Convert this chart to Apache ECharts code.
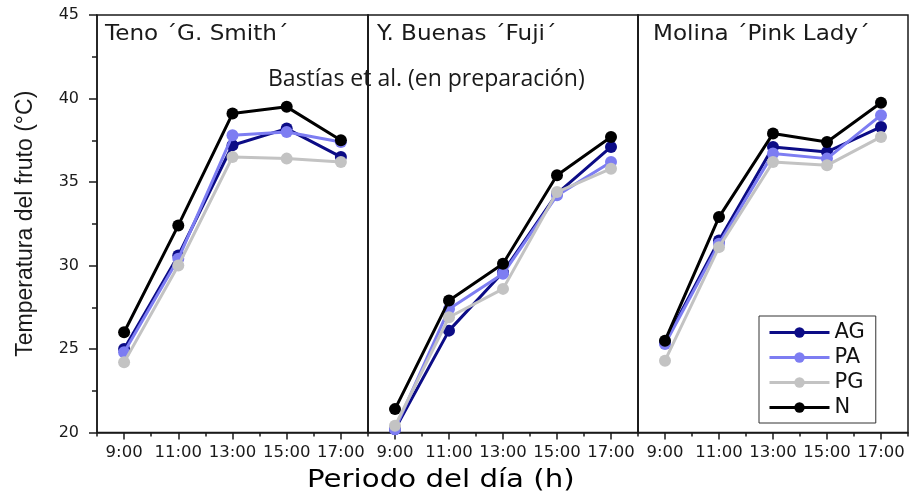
<!DOCTYPE html>
<html>
<head>
<meta charset="utf-8">
<script src="https://cdn.jsdelivr.net/npm/echarts@6/dist/echarts.min.js"></script>
<style>html,body{margin:0;padding:0;background:#fff}#c{width:910px;height:495px}</style>
</head>
<body>
<div id="c"></div>
<script>
const categories = ['9:00', '11:00', '13:00', '15:00', '17:00'];
const yTicks = [20, 25, 30, 35, 40, 45];
const seriesNames = ['AG', 'PA', 'PG', 'N'];
const panelTitles = ['Teno \u00b4G. Smith\u00b4', 'Y. Buenas \u00b4Fuji\u00b4', 'Molina \u00b4Pink Lady\u00b4'];

const teno_AG = [25.0, 30.6, 37.2, 38.2, 36.5];
const teno_PA = [24.8, 30.4, 37.8, 38.0, 37.4];
const teno_PG = [24.2, 30.0, 36.5, 36.4, 36.2];
const teno_N  = [26.0, 32.4, 39.1, 39.5, 37.5];

const fuji_AG = [20.2, 26.1, 29.6, 34.3, 37.1];
const fuji_PA = [20.2, 27.4, 29.5, 34.2, 36.2];
const fuji_PG = [20.4, 26.9, 28.6, 34.4, 35.8];
const fuji_N  = [21.4, 27.9, 30.1, 35.4, 37.7];

const molina_AG = [25.4, 31.5, 37.1, 36.8, 38.3];
const molina_PA = [25.3, 31.3, 36.7, 36.4, 39.0];
const molina_PG = [24.3, 31.1, 36.2, 36.0, 37.7];
const molina_N  = [25.5, 32.9, 37.9, 37.4, 39.75];

const panels = [
  [teno_AG, teno_PA, teno_PG, teno_N],
  [fuji_AG, fuji_PA, fuji_PG, fuji_N],
  [molina_AG, molina_PA, molina_PG, molina_N]
];
const colors = {AG: '#0c0c86', PA: '#7d7df2', PG: '#c3c3c3', N: '#000000'};

const F = 'DejaVu Sans';
const lefts = [97, 368, 638];
const widths = [271, 270, 270];

const grids = lefts.map((l, i) => ({
  left: l, width: widths[i], top: 15, bottom: 62.5,
  show: true, borderColor: '#1a1a1a', borderWidth: 1.5, backgroundColor: 'transparent'
}));

const xAxes = [];
for (let i = 0; i < 3; i++) {
  xAxes.push({
    type: 'category', gridIndex: i, data: categories, boundaryGap: true,
    axisLine: {show: true, lineStyle: {color: '#1a1a1a', width: 1.5}},
    axisTick: {show: true, alignWithLabel: true, interval: 0, length: 7, lineStyle: {color: '#1a1a1a', width: 1.5}},
    axisLabel: {show: true, interval: 0, hideOverlap: false, margin: 12, fontFamily: F, fontSize: 16.5, color: '#1a1a1a'},
    splitLine: {show: false}
  });
}
for (let i = 0; i < 3; i++) {
  xAxes.push({
    type: 'category', gridIndex: i, data: categories, boundaryGap: true, position: 'bottom',
    axisLine: {show: false},
    axisTick: {show: true, alignWithLabel: false, interval: 0, length: 4, lineStyle: {color: '#1a1a1a', width: 1.5}},
    axisLabel: {show: false}, splitLine: {show: false}
  });
}

const yAxes = [];
for (let i = 0; i < 3; i++) {
  yAxes.push({
    type: 'value', gridIndex: i, min: yTicks[0], max: yTicks[yTicks.length - 1], interval: 5,
    axisLine: {show: true, lineStyle: {color: '#1a1a1a', width: 1.5}},
    axisTick: {show: i === 0, length: 8, lineStyle: {color: '#1a1a1a', width: 1.5}},
    minorTick: {show: i === 0, splitNumber: 2, length: 5, lineStyle: {color: '#1a1a1a', width: 1.5}},
    axisLabel: {show: i === 0, margin: 18, fontFamily: F, fontSize: 16, color: '#1a1a1a'},
    splitLine: {show: false},
    name: i === 0 ? 'Temperatura del fruto (\u00b0C)' : '',
    nameLocation: 'middle', nameRotate: 90, nameGap: 60,
    nameTextStyle: {fontFamily: 'Liberation Sans', fontSize: 23, color: '#1a1a1a'}
  });
}

const series = [];
panels.forEach((p, i) => {
  p.forEach((vals, k) => {
    const nm = seriesNames[k];
    series.push({
      name: nm, type: 'line', xAxisIndex: i, yAxisIndex: i, data: vals,
      symbol: 'circle', symbolSize: 12,
      lineStyle: {width: 3, color: colors[nm]},
      itemStyle: {color: colors[nm]},
      z: 2 + k, animation: false
    });
  });
});

const option = {
  animation: false,
  backgroundColor: '#fff',
  grid: grids,
  xAxis: xAxes,
  yAxis: yAxes,
  series: series,
  legend: {
    data: seriesNames, orient: 'vertical', left: 759, top: 316,
    itemWidth: 60, itemHeight: 13, itemGap: 4,
    padding: [6, 11, 5, 9],
    borderColor: '#333', borderWidth: 1, backgroundColor: '#fff',
    lineStyle: {width: 3},
    textStyle: {fontFamily: F, fontSize: 21, color: '#111', lineHeight: 20}
  },
  graphic: [
    {type: 'text', x: 105, y: 35, scaleX: 1.1, style: {text: panelTitles[0], font: '21px "DejaVu Sans"', fill: '#1a1a1a', verticalAlign: 'middle'}},
    {type: 'text', x: 377, y: 35, scaleX: 1.1, style: {text: panelTitles[1], font: '21px "DejaVu Sans"', fill: '#1a1a1a', verticalAlign: 'middle'}},
    {type: 'text', x: 653, y: 35, scaleX: 1.1, style: {text: panelTitles[2], font: '21px "DejaVu Sans"', fill: '#1a1a1a', verticalAlign: 'middle'}},
    {type: 'text', x: 268, y: 79, style: {text: 'Bast\u00edas et al. (en preparaci\u00f3n)', font: '23px "Open Sans"', fill: '#1a1a1a', verticalAlign: 'middle'}},
    {type: 'text', x: 307, y: 480, scaleX: 1.17, style: {text: 'Periodo del d\u00eda (h)', font: '25px "DejaVu Sans"', fill: '#000', align: 'left', verticalAlign: 'middle'}}
  ]
};
const chart = echarts.init(document.getElementById('c'), null, {renderer: 'canvas'});
chart.setOption(option);
</script>
</body>
</html>
